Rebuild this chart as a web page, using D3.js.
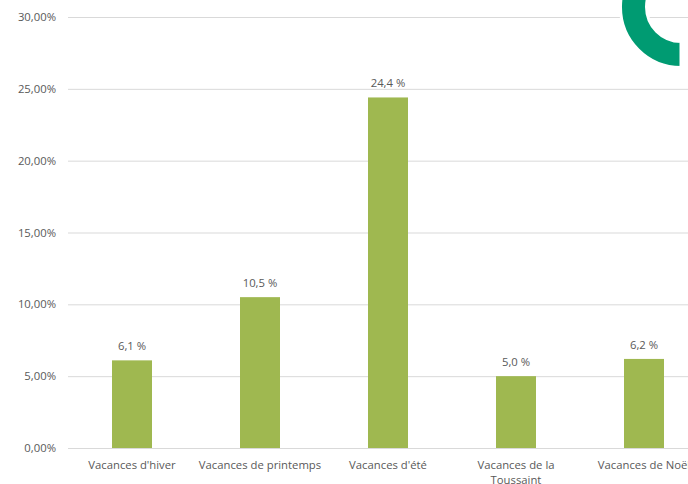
<!DOCTYPE html>
<html><head><meta charset="utf-8">
<script src="https://cdn.jsdelivr.net/npm/d3@7"></script>
<style>body{margin:0;background:#fff}svg{display:block}text{font-family:"Open Sans",sans-serif;fill:#595959}</style>
</head><body><svg id="c" width="688" height="484"></svg>
<script>
const categories = ["Vacances d'hiver","Vacances de printemps","Vacances d'été","Vacances de la|Toussaint","Vacances de Noël"];
const values = [6.1, 10.5, 24.4, 5.0, 6.2];
const yTicks = [0,5,10,15,20,25,30];

const svg = d3.select("#c");
const x = d3.scaleBand().domain(categories).range([68,708]).paddingInner(0.6875).paddingOuter(0.34375);
const y = d3.scaleLinear().domain([0,30]).range([448,17]);
const fmtTick = v => v.toFixed(2).replace(".",",")+"%";
const fmtVal = v => v.toFixed(1).replace(".",",")+" %";
const fs = "11.3px";

const grid = svg.append("g");
grid.selectAll("line").data(yTicks).join("line")
  .attr("x1",68).attr("x2",688).attr("y1",d=>y(d)+0.5).attr("y2",d=>y(d)+0.5)
  .attr("stroke","#d9d9d9").attr("stroke-width",1);
grid.selectAll("text").data(yTicks).join("text")
  .attr("x",56).attr("y",d=>y(d)+4).attr("text-anchor","end").attr("font-size",fs).text(fmtTick);

svg.append("g").selectAll("rect").data(values).join("rect")
  .attr("x",(d,i)=>x(categories[i])).attr("width",x.bandwidth())
  .attr("y",d=>y(d)).attr("height",d=>y(0)-y(d)).attr("fill","#9fb850");

svg.append("g").selectAll("text").data(values).join("text")
  .attr("x",(d,i)=>x(categories[i])+x.bandwidth()/2).attr("y",d=>y(d)-10)
  .attr("text-anchor","middle").attr("font-size",fs).text(fmtVal);

const cat = svg.append("g").selectAll("text").data(categories).join("text")
  .attr("x",d=>x(d)+x.bandwidth()/2).attr("y",469).attr("text-anchor","middle").attr("font-size",fs);
cat.each(function(d){
  const parts=d.split("|");
  d3.select(this).selectAll("tspan").data(parts).join("tspan")
    .attr("x",x(d)+x.bandwidth()/2).attr("dy",(p,i)=>i?14.5:0).text(p=>p);
});

const arc = d3.arc().innerRadius(34.5).outerRadius(60.5).startAngle(Math.PI).endAngle(2*Math.PI);
svg.append("path").attr("transform","translate(681,7)").attr("d",arc())
  .attr("fill","#009b72").attr("stroke","#fff").attr("stroke-width",3);
</script></body></html>
